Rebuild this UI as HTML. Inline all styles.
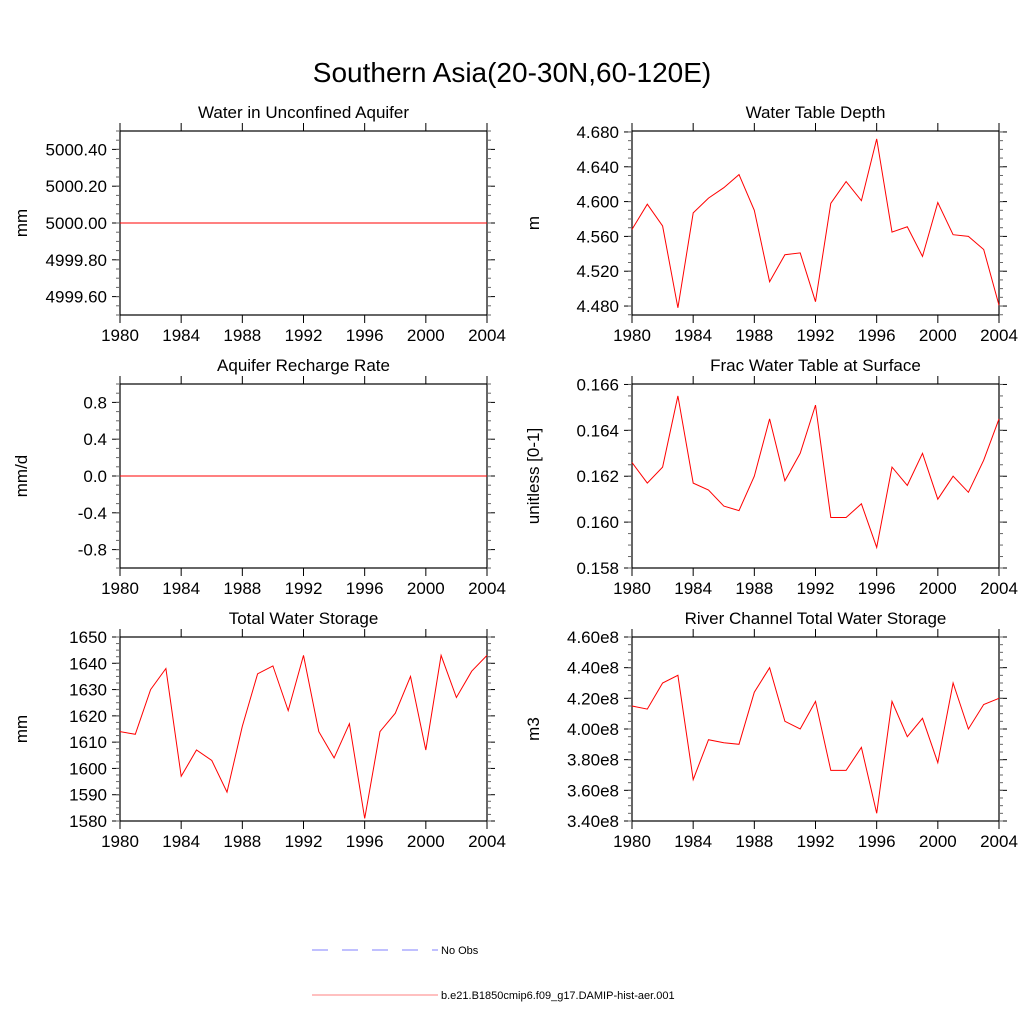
<!DOCTYPE html>
<html><head><meta charset="utf-8"><style>
body{margin:0;background:#fff}
svg text{font-family:"Liberation Sans",sans-serif;fill:#000}
</style></head><body>
<svg id="c" width="1024" height="1024" xmlns="http://www.w3.org/2000/svg">
<text x="512" y="82" font-size="28" text-anchor="middle">Southern Asia(20-30N,60-120E)</text>
<g>
<line x1="312" y1="950" x2="438" y2="950" stroke="#8080ff" stroke-width="1" stroke-dasharray="16,14"/>
<text x="441" y="954" font-size="11">No Obs</text>
<line x1="312" y1="995" x2="438" y2="995" stroke="#ff8080" stroke-width="1"/>
<text x="441" y="999" font-size="11">b.e21.B1850cmip6.f09_g17.DAMIP-hist-aer.001</text>
</g>
</svg>
<script>
const years=[1980,1981,1982,1983,1984,1985,1986,1987,1988,1989,1990,1991,1992,1993,1994,1995,1996,1997,1998,1999,2000,2001,2002,2003,2004];
const xTicks=[1980,1984,1988,1992,1996,2000,2004];
const aquiferVals=years.map(()=>5000.0);
const rechargeVals=years.map(()=>0.0);
const wtdVals=[4.568,4.597,4.572,4.478,4.587,4.604,4.616,4.631,4.590,4.508,4.539,4.541,4.485,4.598,4.623,4.601,4.672,4.565,4.571,4.537,4.599,4.562,4.560,4.545,4.481];
const fracVals=[0.1626,0.1617,0.1624,0.1655,0.1617,0.1614,0.1607,0.1605,0.1620,0.1645,0.1618,0.1630,0.1651,0.1602,0.1602,0.1608,0.1589,0.1624,0.1616,0.1630,0.1610,0.1620,0.1613,0.1627,0.1645];
const twsVals=[1614,1613,1630,1638,1597,1607,1603,1591,1616,1636,1639,1622,1643,1614,1604,1617,1581,1614,1621,1635,1607,1643,1627,1637,1643];
const rivVals=[4.15,4.13,4.30,4.35,3.67,3.93,3.91,3.90,4.24,4.40,4.05,4.00,4.18,3.73,3.73,3.88,3.45,4.18,3.95,4.07,3.78,4.30,4.00,4.16,4.20];
const aquiferTicks=[4999.6,4999.8,5000.0,5000.2,5000.4];
const rechargeTicks=[-0.8,-0.4,0.0,0.4,0.8];
const wtdTicks=[4.48,4.52,4.56,4.60,4.64,4.68];
const fracTicks=[0.158,0.160,0.162,0.164,0.166];
const twsTicks=[1580,1590,1600,1610,1620,1630,1640,1650];
const rivTicks=[3.4,3.6,3.8,4.0,4.2,4.4,4.6];
const NS='http://www.w3.org/2000/svg';
const svg=document.getElementById('c');
function mk(tag,attrs,parent){const e=document.createElementNS(NS,tag);for(const k in attrs)e.setAttribute(k,attrs[k]);parent.appendChild(e);return e;}
const panels=[
 {id:'aquifer',title:'Water in Unconfined Aquifer',yl:'mm',x0:120,y0:131,vals:aquiferVals,ticks:aquiferTicks,ymin:4999.5,ymax:5000.5,fmt:v=>v.toFixed(2),minor:4},
 {id:'water-table-depth',title:'Water Table Depth',yl:'m',x0:632,y0:131,vals:wtdVals,ticks:wtdTicks,ymin:4.4697,ymax:4.6811,fmt:v=>v.toFixed(3),minor:4},
 {id:'recharge',title:'Aquifer Recharge Rate',yl:'mm/d',x0:120,y0:384,vals:rechargeVals,ticks:rechargeTicks,ymin:-1,ymax:1,fmt:v=>v.toFixed(1),minor:4},
 {id:'frac-water-table',title:'Frac Water Table at Surface',yl:'unitless [0-1]',x0:632,y0:384,vals:fracVals,ticks:fracTicks,ymin:0.158,ymax:0.16602,fmt:v=>v.toFixed(3),minor:4},
 {id:'total-water-storage',title:'Total Water Storage',yl:'mm',x0:120,y0:637,vals:twsVals,ticks:twsTicks,ymin:1580,ymax:1650,fmt:v=>v.toFixed(0),minor:4},
 {id:'river-storage',title:'River Channel Total Water Storage',yl:'m3',x0:632,y0:637,vals:rivVals,ticks:rivTicks,ymin:3.4,ymax:4.6,fmt:v=>v.toFixed(2)+'e8',minor:4},
];
const W=367,H=184;
panels.forEach(p=>{
 const g=mk('g',{},svg);
 
 
 const xs=v=>p.x0+(v-1980)/24*W;
 const ys=v=>p.y0+H-(v-p.ymin)/(p.ymax-p.ymin)*H;
 const t=mk('text',{x:p.x0+W/2,y:p.y0-13,'font-size':17,'text-anchor':'middle'},g);t.textContent=p.title;
 
 
 const yl=mk('text',{x:0,y:0,'font-size':17,'text-anchor':'middle',transform:`translate(${p.x0-93},${p.y0+H/2}) rotate(-90)`},g);yl.textContent=p.yl;
 
 
 const fr=mk('rect',{x:p.x0,y:p.y0,width:W,height:H,fill:'none',stroke:'#000','stroke-width':1.2},g);
 
 
 xTicks.forEach(v=>{
  const x=xs(v);
  mk('line',{x1:x,y1:p.y0,x2:x,y2:p.y0-8,stroke:'#000'},g);
  mk('line',{x1:x,y1:p.y0+H,x2:x,y2:p.y0+H+8,stroke:'#000'},g);
  const l=mk('text',{x:x,y:p.y0+H+26,'font-size':17,'text-anchor':'middle'},g);l.textContent=v;
  
  
 });
 const step=p.ticks[1]-p.ticks[0];
 p.ticks.forEach(v=>{
  const y=ys(v);
  mk('line',{x1:p.x0,y1:y,x2:p.x0-8,y2:y,stroke:'#000'},g);
  mk('line',{x1:p.x0+W,y1:y,x2:p.x0+W+8,y2:y,stroke:'#000'},g);
  const l=mk('text',{x:p.x0-13,y:y+6,'font-size':17,'text-anchor':'end'},g);l.textContent=p.fmt(v);
  
  
 });
 for(let v=p.ticks[0]-step;v<=p.ticks[p.ticks.length-1]+step;v+=step/p.minor){
  const y=ys(v);if(y<p.y0-0.5||y>p.y0+H+0.5)continue;
  mk('line',{x1:p.x0,y1:y,x2:p.x0-4,y2:y,stroke:'#666'},g);
  mk('line',{x1:p.x0+W,y1:y,x2:p.x0+W+4,y2:y,stroke:'#666'},g);
 }
 const pts=years.map((yr,i)=>xs(yr).toFixed(1)+','+ys(p.vals[i]).toFixed(1)).join(' ');
 const line=mk('polyline',{points:pts,fill:'none',stroke:'#ff0000','stroke-width':1},g);
 
 
});
</script>
</body></html>
